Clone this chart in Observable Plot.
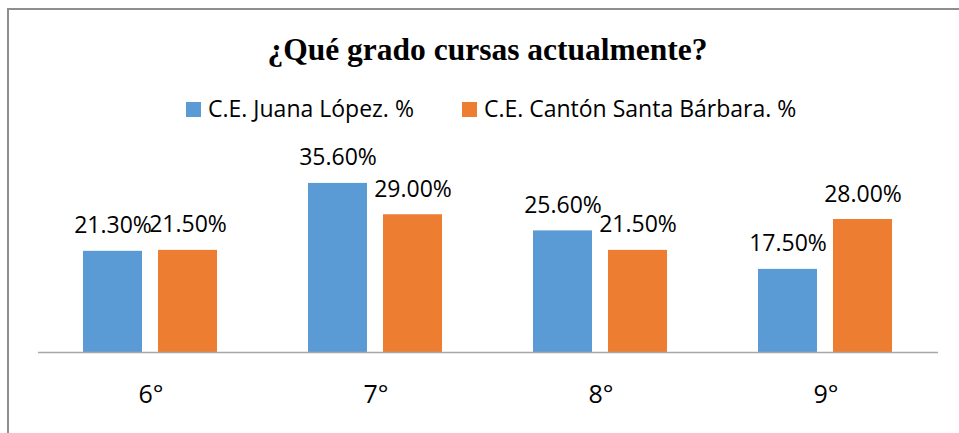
<!DOCTYPE html>
<html><head><meta charset="utf-8">
<script src="https://cdn.jsdelivr.net/npm/d3@7"></script>
<script src="https://cdn.jsdelivr.net/npm/@observablehq/plot@0.6"></script>
<style>
html,body{margin:0;padding:0;background:#fff;overflow:hidden;width:959px;height:433px;position:relative}
#frame{position:absolute;left:7px;top:8px;width:975px;height:445px;border:2px solid #8e8e8e;box-sizing:border-box}
#title{position:absolute;left:0;width:975px;top:34px;text-align:center;font-family:"Liberation Serif";font-weight:bold;font-size:31.5px;line-height:31.5px;color:#000;white-space:nowrap}
#legend{position:absolute;left:186px;top:97px;font-family:"Open Sans";font-size:23px;line-height:23px;color:#000;white-space:nowrap}
.sw{display:inline-block;width:15px;height:15px;margin-right:7px;vertical-align:baseline}
.item{display:inline-block;margin-right:48px}
#chart{position:absolute;left:0;top:130px}
</style>
</head><body>
<div id="frame"></div>
<div id="title">¿Qué grado cursas actualmente?</div>
<div id="legend"></div>
<div id="chart"></div>
<script>
const categories = ["6°", "7°", "8°", "9°"];
const series = ["C.E. Juana López. %", "C.E. Cantón Santa Bárbara. %"];
const juana = [21.3, 35.6, 25.6, 17.5];
const canton = [21.5, 29.0, 21.5, 28.0];
const colors = ["#5b9bd5", "#ed7d31"];

const data = categories.flatMap((c, i) => [
  {cat: c, serie: series[0], value: juana[i]},
  {cat: c, serie: series[1], value: canton[i]}
]);

const legend = document.getElementById("legend");
series.forEach((s, i) => {
  const item = document.createElement("span");
  item.className = "item";
  const sw = document.createElement("span");
  sw.className = "sw";
  sw.style.background = colors[i];
  item.appendChild(sw);
  item.appendChild(document.createTextNode(s));
  legend.appendChild(item);
});

const plot = Plot.plot({
  width: 959, height: 303,
  marginLeft: 37, marginRight: 21, marginTop: 32, marginBottom: 81,
  style: {fontFamily: "Open Sans", color: "#000", background: "transparent", overflow: "visible"},
  fx: {domain: categories, padding: 0, label: null},
  x: {domain: series, paddingInner: 0.21, paddingOuter: 0.587, axis: null},
  y: {domain: [0, 40], axis: null},
  color: {domain: series, range: colors},
  marks: [
    Plot.barY(data, {fx: "cat", x: "serie", y: "value", fill: "serie"}),
    Plot.ruleY([0], {stroke: "#a6a6a6", strokeWidth: 1.3}),
    Plot.text(data, {fx: "cat", x: "serie", y: "value", text: d => d.value.toFixed(2) + "%", lineAnchor: "bottom", dy: -18, fontSize: 23, fill: "#000"}),
    Plot.axisFx({anchor: "bottom", tickSize: 0, tickPadding: 33, fontSize: 25, label: null, fill: "#000"})
  ]
});
document.getElementById("chart").appendChild(plot);
</script>
</body></html>
